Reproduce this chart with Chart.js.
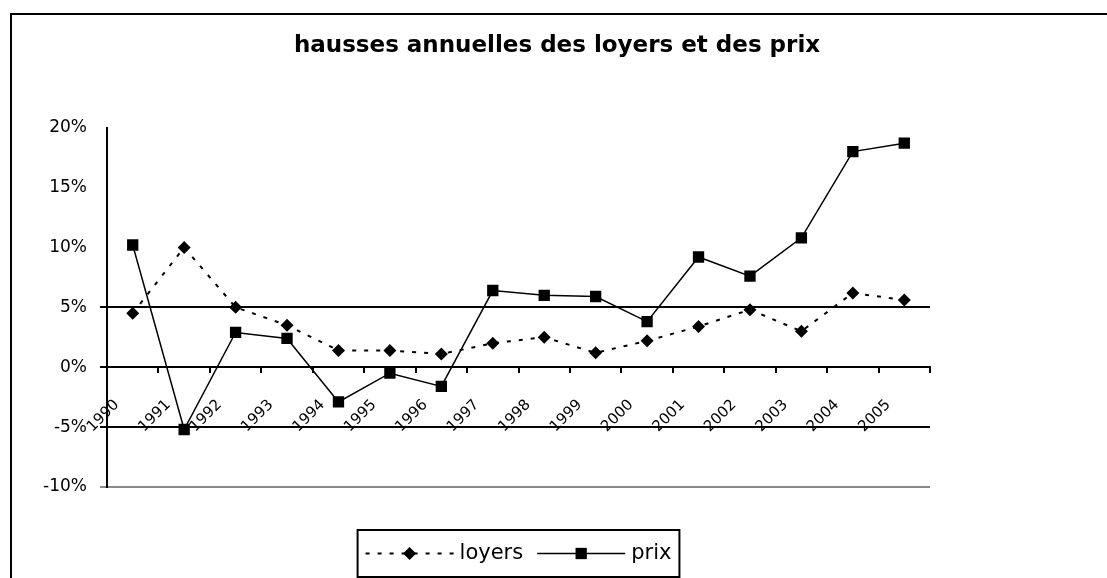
<!DOCTYPE html>
<html>
<head>
<meta charset="utf-8">
<script src="https://cdn.jsdelivr.net/npm/chart.js@4/dist/chart.umd.min.js"></script>
<style>
  html, body { margin: 0; background: #fff; overflow: hidden; }
  #frame {
    position: absolute; left: 10px; top: 13px;
    width: 1095px; height: 563px;
    border-left: 2px solid #000; border-top: 2px solid #000;
  }
  canvas { display: block; }
</style>
</head>
<body>
<div id="frame"><canvas id="chart" width="1095" height="563"></canvas></div>
<script>
const YEARS = ['1990', '1991', '1992', '1993', '1994', '1995', '1996', '1997',
               '1998', '1999', '2000', '2001', '2002', '2003', '2004', '2005'];
const LOYERS = [4.5, 10.0, 5.0, 3.5, 1.4, 1.4, 1.1, 2.0, 2.5, 1.2, 2.2, 3.4, 4.8, 3.0, 6.2, 5.6];
const PRIX = [10.2, -5.2, 2.9, 2.4, -2.9, -0.5, -1.6, 6.4, 6.0, 5.9, 3.8, 9.2, 7.6, 10.8, 18.0, 18.7];
const Y_MIN = -10;
const Y_MAX = 20;
const Y_STEP = 5;
const DARK_LINES = [5, 0, -5];

Chart.defaults.font.family = '"DejaVu Sans", sans-serif';
Chart.defaults.color = '#000';

// legend drawn as a framed box under the plot, centred on the plot area
const boxLegend = {
  id: 'boxLegend',
  afterDraw(chart, args, opts) {
    const ctx = chart.ctx;
    const area = chart.chartArea;
    const sample = opts.sample, gap = opts.gap, pad = opts.pad;
    ctx.save();
    ctx.font = opts.size + 'px "DejaVu Sans", sans-serif';
    const items = chart.data.datasets.map(ds => ({ ds, w: ctx.measureText(ds.label).width }));
    let total = 0;
    items.forEach((it, i) => { total += sample + gap + it.w + (i ? opts.itemGap : 0); });
    const boxW = total + pad * 2;
    const cx = (area.left + area.right) / 2;
    const top = area.bottom + opts.offset;
    const left = cx - boxW / 2;
    const midY = top + opts.height / 2;

    ctx.lineWidth = 2;
    ctx.strokeStyle = '#000';
    ctx.strokeRect(left, top, boxW, opts.height);

    let x = left + pad;
    items.forEach((it, i) => {
      if (i) x += opts.itemGap;
      const ds = it.ds;
      ctx.beginPath();
      ctx.setLineDash(ds.borderDash || []);
      ctx.lineWidth = ds.borderWidth;
      ctx.moveTo(x, midY);
      ctx.lineTo(x + sample, midY);
      ctx.stroke();
      ctx.setLineDash([]);
      ctx.fillStyle = '#000';
      Chart.helpers.drawPoint(ctx, {
        pointStyle: ds.pointStyle, radius: ds.pointRadius, rotation: 0, borderWidth: 0
      }, x + sample / 2, midY);
      x += sample + gap;
      ctx.textAlign = 'left';
      ctx.textBaseline = 'middle';
      ctx.fillText(ds.label, x, midY);
      x += it.w;
    });
    ctx.restore();
  }
};

new Chart(document.getElementById('chart'), {
  type: 'line',
  data: {
    labels: YEARS,
    datasets: [
      {
        label: 'loyers',
        data: LOYERS,
        borderColor: '#000',
        backgroundColor: '#000',
        borderWidth: 2,
        borderDash: [4, 8],
        pointStyle: 'rectRot',
        pointRadius: 6.5,
        pointBorderWidth: 0,
        pointBackgroundColor: '#000',
        yAxisID: 'y',
      },
      {
        label: 'prix',
        data: PRIX,
        borderColor: '#000',
        backgroundColor: '#000',
        borderWidth: 1.5,
        pointStyle: 'rect',
        pointRadius: 8,
        pointBorderWidth: 0,
        pointBackgroundColor: '#000',
        yAxisID: 'y',
      },
    ]
  },
  options: {
    responsive: false,
    animation: false,
    layout: { padding: { left: 0, right: 5, top: 0, bottom: 91 } },
    scales: {
      x: {
        type: 'category',
        position: { y: 0 },
        offset: true,
        grid: {
          offset: true,
          drawOnChartArea: false,
          drawTicks: true,
          tickLength: 5,
          color: '#000',
          lineWidth: 2,
        },
        border: { display: true, color: '#000', width: 2 },
        ticks: {
          autoSkip: false,
          minRotation: 45,
          maxRotation: 45,
          labelOffset: -16,
          padding: 24,
          font: { size: 15 },
        },
      },
      y: {
        min: Y_MIN,
        max: Y_MAX,
        afterFit: s => { s.width = 95; },
        ticks: {
          stepSize: Y_STEP,
          padding: 13,
          font: { size: 17 },
          callback: v => v + '%',
        },
        grid: {
          lineWidth: 2,
          tickLength: 7,
          color: c => {
            const v = c.tick ? c.tick.value : null;
            if (DARK_LINES.includes(v)) return '#000';
            if (v === Y_MIN) return '#8a8a8a';
            return 'rgba(0,0,0,0)';
          },
        },
        border: { display: true, color: '#000', width: 2 },
      },
      // empty right-hand box so the title centres on the whole frame
      yR: {
        position: 'right',
        display: true,
        afterFit: s => { s.width = 172; },
        ticks: { display: false },
        grid: { display: false, drawTicks: false },
        border: { display: false },
      },
    },
    plugins: {
      legend: { display: false },
      tooltip: { enabled: false },
      title: {
        display: true,
        text: 'hausses annuelles des loyers et des prix',
        font: { size: 23, weight: 'bold' },
        padding: { top: 17, bottom: 68 },
      },
      boxLegend: { sample: 88, gap: 6, itemGap: 14, pad: 8, size: 21, offset: 43, height: 47 },
    }
  },
  plugins: [boxLegend]
});
</script>
</body>
</html>
